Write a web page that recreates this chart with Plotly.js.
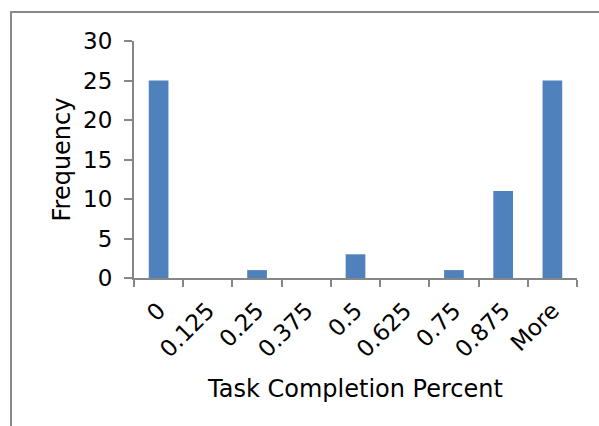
<!DOCTYPE html>
<html>
<head>
<meta charset="utf-8">
<script src="https://cdn.plot.ly/plotly-3.0.1.min.js"></script>
<style>html,body{margin:0;padding:0;background:#fff;}#chart{width:599px;height:426px;}</style>
</head>
<body>
<div id="chart"></div>
<script>
var categories = ["0", "0.125", "0.25", "0.375", "0.5", "0.625", "0.75", "0.875", "More"];
var frequency = [25, 0, 1, 0, 3, 0, 1, 11, 25];
var yTicks = [0, 5, 10, 15, 20, 25, 30];

var axisColor = "#868686";
var fontFamily = "Verdana, 'DejaVu Sans', sans-serif";

var trace = {
  type: "bar",
  x: categories,
  y: frequency,
  marker: {color: "#4F81BD", line: {color: "#A7BFDE", width: 0}},
  hoverinfo: "x+y"
};

var layout = {
  width: 599,
  height: 426,
  margin: {l: 134, r: 22, t: 41, b: 148},
  paper_bgcolor: "#ffffff",
  plot_bgcolor: "#ffffff",
  showlegend: false,
  bargap: 0.6,
  font: {family: fontFamily, color: "#000000", size: 23},
  xaxis: {
    type: "category",
    showgrid: false,
    zeroline: false,
    showline: true,
    linecolor: axisColor,
    linewidth: 2,
    ticks: "outside",
    tickson: "boundaries",
    ticklen: 7,
    tickwidth: 2,
    tickcolor: axisColor,
    tickangle: -45,
    tickfont: {family: fontFamily, size: 23, color: "#000"},
    ticklabelstandoff: 8,
    automargin: false,
    title: {text: "Task Completion Percent", font: {family: fontFamily, size: 24, color: "#000"}, standoff: 19}
  },
  yaxis: {
    range: [0, 30],
    tickvals: yTicks,
    showgrid: false,
    zeroline: false,
    showline: true,
    linecolor: axisColor,
    linewidth: 2,
    ticks: "outside",
    ticklen: 8,
    tickwidth: 2,
    tickcolor: axisColor,
    tickfont: {family: fontFamily, size: 23, color: "#000"},
    ticklabelstandoff: 7,
    automargin: false,
    title: {text: "Frequency", font: {family: fontFamily, size: 24, color: "#000"}, standoff: 6}
  },
  shapes: [{
    type: "rect",
    xref: "paper", yref: "paper",
    x0: (11 - 134) / 443, x1: 2,
    y0: -2, y1: (278 - 12) / 237,
    line: {color: "#888888", width: 2},
    fillcolor: "rgba(0,0,0,0)",
    layer: "below"
  }]
};

Plotly.newPlot("chart", [trace], layout, {displayModeBar: false, staticPlot: true});
</script>
</body>
</html>
